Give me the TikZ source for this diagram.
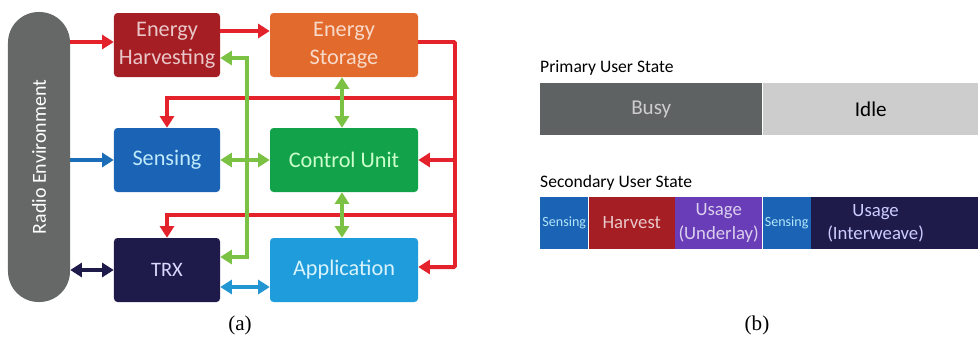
\documentclass[tikz,border=0pt]{standalone}
\usepackage{graphicx}
\usepackage{fontspec}
\setmainfont{Carlito}
\newfontfamily\capfont{Liberation Serif}
\usetikzlibrary{arrows.meta}

\definecolor{radiogray}{HTML}{666868}
\definecolor{ehred}{HTML}{A51E24}
\definecolor{esorange}{HTML}{E26A2C}
\definecolor{sensblue}{HTML}{1B64B5}
\definecolor{cugreen}{HTML}{12A34A}
\definecolor{trxnavy}{HTML}{1E1B4B}
\definecolor{appblue}{HTML}{1E9CDB}
\definecolor{linered}{HTML}{E3222B}
\definecolor{linegreen}{HTML}{7BC143}
\definecolor{lineblue}{HTML}{1C6DB8}
\definecolor{linecyan}{HTML}{2196D3}
\definecolor{busygray}{HTML}{5F6263}
\definecolor{idlegray}{HTML}{CDCDCD}
\definecolor{underpurple}{HTML}{6A3DB8}

\begin{document}
\begin{tikzpicture}[x=0.03cm,y=-0.03cm,
    blk/.style={rounded corners=3pt,minimum height=1.92cm,inner sep=0pt,
      align=center,font=\fontsize{19}{24}\selectfont},
    small/.style={blk,minimum width=3.18cm},
    wide/.style={blk,minimum width=4.44cm},
    seg/.style={minimum height=1.56cm,inner sep=0pt,align=center,anchor=west,
      font=\fontsize{16}{21}\selectfont},
    arr/.style={line width=3.4pt,-{Triangle[length=10pt,width=12pt]}},
    darr/.style={line width=3.4pt,{Triangle[length=10pt,width=12pt]}-{Triangle[length=10pt,width=12pt]}},
  ]
  \useasboundingbox (0,0) rectangle (978,350);

  % (a) blocks
  \node[fill=radiogray,rounded corners=0.92cm,minimum width=1.86cm,
    minimum height=8.7cm,inner sep=0pt,text=white,
    font=\fontsize{17}{17}\selectfont] (radio) at (39,157)
    {\rotatebox{90}{Radio Environment}};
  \node[small,fill=ehred,text=ehred!25] (eh) at (167,45) {Energy\\Harvesting};
  \node[wide,fill=esorange,text=esorange!25] (es) at (344,45) {Energy\\Storage};
  \node[small,fill=sensblue,text=cyan!25] (sens) at (167,160) {Sensing};
  \node[wide,fill=cugreen,text=green!20] (cu) at (344,160) {Control Unit};
  \node[small,fill=trxnavy,text=blue!15,font=\fontsize{17.5}{20}\selectfont] (trx) at (167,270) {TRX};
  \node[wide,fill=appblue,text=cyan!15] (app) at (344,270) {Application};

  % red power lines
  \coordinate (rt) at (455,42);
  \coordinate (rb) at (455,267);
  \coordinate (r1) at (455,98);
  \coordinate (r2) at (455,215);
  \draw[arr,linered] (radio.east |- 0,42) -- (eh.west |- 0,42);
  \draw[arr,linered] ([yshift=0.42cm]eh.east) -- ([yshift=0.42cm]es.west);
  \draw[arr,linered,rounded corners=1pt] (es.east |- rt) -- (rt) -- (rb) -- (app.east |- rb);
  \draw[arr,linered] (cu.east -| rt) -- (cu.east);
  \draw[arr,linered] (r1) -| (sens.north);
  \draw[arr,linered] (r2) -| (trx.north);

  % green control lines
  \coordinate (gt) at (247,58);
  \coordinate (gb) at (247,257);
  \draw[darr,linegreen] (eh.east |- gt) -- (gt) -- (gb) -- (trx.east |- gb);
  \draw[darr,linegreen] (sens.east) -- (cu.west);
  \draw[darr,linegreen] ([xshift=-0.06cm]es.south) -- ([xshift=-0.06cm]cu.north);
  \draw[darr,linegreen] ([xshift=-0.06cm]cu.south) -- ([xshift=-0.06cm]app.north);

  % radio links
  \draw[arr,lineblue] (radio.east |- sens) -- (sens.west);
  \draw[darr,trxnavy] (radio.east |- trx) -- (trx.west);
  \draw[darr,linecyan] ([yshift=-0.51cm]trx.east) -- ([yshift=-0.51cm]app.west);

  \node[font=\capfont\fontsize{18}{18}\selectfont] (capa) at (240,325) {(a)};

  % (b) states
  \node[anchor=west,inner sep=0pt,font=\fontsize{15}{15}\selectfont] (pu) at (540,68) {Primary User State};
  \node[seg,fill=busygray,minimum width=6.66cm,text=idlegray,
    font=\fontsize{18}{18}\selectfont] (busy) at (540,109) {Busy};
  \node[seg,fill=idlegray,minimum width=6.48cm,text=black,
    font=\fontsize{18}{18}\selectfont] (idle) at (busy.east) {Idle};

  \node[anchor=west,inner sep=0pt,font=\fontsize{15}{15}\selectfont] (su) at (540,183) {Secondary User State};
  \node[seg,fill=sensblue,minimum width=1.44cm,text=cyan!30,
    font=\fontsize{12}{12}\selectfont] (s1) at (540,223) {Sensing};
  \node[seg,fill=ehred,minimum width=2.58cm,text=ehred!25] (harv) at (s1.east) {Harvest};
  \node[seg,fill=underpurple,minimum width=2.61cm,text=underpurple!25] (under) at (harv.east) {Usage\\(Underlay)};
  \node[seg,fill=sensblue,minimum width=1.44cm,text=cyan!30,
    font=\fontsize{12}{12}\selectfont] (s2) at (under.east) {Sensing};
  \node[seg,fill=trxnavy,minimum width=5.07cm,text=blue!20,align=none] (inter) at (s2.east)
    {\begin{tabular}{@{}c@{}}Usage\\[-2pt](Interweave)\end{tabular}\hspace*{1.2cm}};

  \node[font=\capfont\fontsize{18}{18}\selectfont] (capb) at (757,325) {(b)};
\end{tikzpicture}
\end{document}
